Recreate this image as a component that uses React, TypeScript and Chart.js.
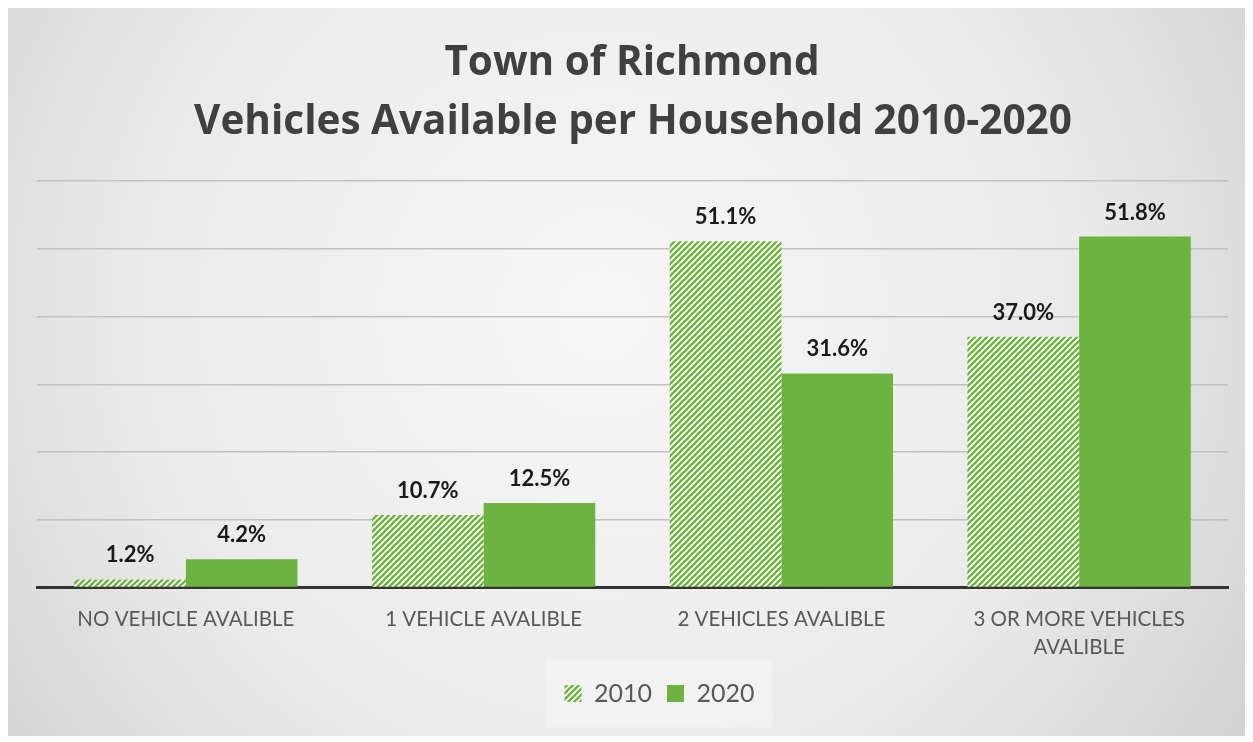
import { useEffect, useRef } from "react";
import { Chart, registerables } from "chart.js";

Chart.register(...registerables);

const categories = [
  "NO VEHICLE AVALIBLE",
  "1 VEHICLE AVALIBLE",
  "2 VEHICLES AVALIBLE",
  ["3 OR MORE VEHICLES", "AVALIBLE"],
];
const seriesNames = ["2010", "2020"];
const values2010 = [1.2, 10.7, 51.1, 37.0];
const values2020 = [4.2, 12.5, 31.6, 51.8];
const yTicks = [0, 10, 20, 30, 40, 50, 60];
const titleLines = ["Town of Richmond", "Vehicles Available per Household 2010-2020"];

const GREEN = "#6db33f";
const FONT = "Lato, 'Open Sans', sans-serif";
const TITLE_FONT = "'Open Sans', Lato, sans-serif";

function makeHatch(): CanvasPattern | string {
  const c = document.createElement("canvas");
  const s = 6;
  c.width = s;
  c.height = s;
  const ctx = c.getContext("2d");
  if (!ctx) return GREEN;
  ctx.fillStyle = "#ffffff";
  ctx.fillRect(0, 0, s, s);
  ctx.strokeStyle = GREEN;
  ctx.lineWidth = 2.4;
  ctx.beginPath();
  ctx.moveTo(-1, s + 1);
  ctx.lineTo(s + 1, -1);
  ctx.moveTo(-1, 1);
  ctx.lineTo(1, -1);
  ctx.moveTo(s - 1, s + 1);
  ctx.lineTo(s + 1, s - 1);
  ctx.stroke();
  return ctx.createPattern(c, "repeat") || GREEN;
}

const LEGEND_SHIFT_X = 27;
const LEGEND_SHIFT_Y = -13;

const backgroundPlugin = {
  id: "bgAndTitle",
  afterLayout(chart: any) {
    const lg = chart.legend;
    if (lg) {
      lg.left += LEGEND_SHIFT_X;
      lg.right += LEGEND_SHIFT_X;
      lg.top += LEGEND_SHIFT_Y;
      lg.bottom += LEGEND_SHIFT_Y;
    }
  },
  beforeDraw(chart: any) {
    const { ctx, width, height } = chart;
    ctx.save();
    const g = ctx.createRadialGradient(width * 0.48, height * 0.42, 40, width * 0.48, height * 0.42, width * 0.62);
    g.addColorStop(0, "#f6f6f6");
    g.addColorStop(0.6, "#eaeaea");
    g.addColorStop(1, "#d2d2d2");
    ctx.fillStyle = g;
    ctx.fillRect(0, 0, width, height);

    // legend backdrop
    const lg = chart.legend;
    if (lg && lg.legendHitBoxes && lg.legendHitBoxes.length) {
      const boxes = lg.legendHitBoxes;
      const l = Math.min(...boxes.map((b: any) => b.left));
      const r = Math.max(...boxes.map((b: any) => b.left + b.width));
      const t = Math.min(...boxes.map((b: any) => b.top));
      const b2 = Math.max(...boxes.map((b: any) => b.top + b.height));
      const cy = (t + b2) / 2;
      ctx.fillStyle = "rgba(255,255,255,0.3)";
      ctx.fillRect(l - 19, cy - 34, r - l + 37, 68);
    }

    // title
    ctx.fillStyle = "#404040";
    ctx.font = `bold 40.5px ${TITLE_FONT}`;
    ctx.textAlign = "center";
    ctx.textBaseline = "middle";
    ctx.fillText(titleLines[0], width / 2 + 4, 55);
    ctx.fillText(titleLines[1], width / 2 + 5, 114);
    ctx.restore();
  },
};

const labelPlugin = {
  id: "barLabels",
  afterDatasetsDraw(chart: any) {
    const { ctx } = chart;
    ctx.save();
    ctx.font = `bold 22px ${FONT}`;
    ctx.fillStyle = "#1a1a1a";
    ctx.textAlign = "center";
    ctx.textBaseline = "alphabetic";
    chart.data.datasets.forEach((ds: any, i: number) => {
      const meta = chart.getDatasetMeta(i);
      meta.data.forEach((bar: any, j: number) => {
        const v = ds.data[j];
        ctx.fillText(v.toFixed(1) + "%", bar.x, bar.y - 17);
      });
    });
    ctx.restore();
  },
};

export default function App() {
  const ref = useRef<HTMLCanvasElement | null>(null);
  useEffect(() => {
    if (!ref.current) return;
    const hatch = makeHatch();
    const chart = new Chart(ref.current, {
      type: "bar",
      data: {
        labels: categories,
        datasets: [
          { label: seriesNames[0], data: values2010, backgroundColor: hatch as any, borderWidth: 0 },
          { label: seriesNames[1], data: values2020, backgroundColor: GREEN, borderWidth: 0 },
        ],
      },
      options: {
        animation: false,
        responsive: false,
        devicePixelRatio: 1,
        layout: { padding: { top: 173, left: 29, right: 20, bottom: 7 } },
        datasets: { bar: { categoryPercentage: 0.75, barPercentage: 1 } },
        plugins: {
          title: { display: false },
          tooltip: { enabled: false },
          legend: {
            position: "bottom",
            labels: {
              boxWidth: 17,
              boxHeight: 17,
              padding: 15,
              color: "#595959",
              font: { family: FONT, size: 25 },
            },
          },
        },
        scales: {
          x: {
            grid: { display: false, drawTicks: false },
            border: { display: true, color: "#333333", width: 3 },
            ticks: {
              color: "#595959",
              font: { family: FONT, size: 20.5, lineHeight: 1.4 },
              padding: 17,
              maxRotation: 0,
            },
          },
          y: {
            min: yTicks[0],
            max: yTicks[yTicks.length - 1],
            afterBuildTicks: (axis: any) => {
              axis.ticks = yTicks.map((v) => ({ value: v }));
            },
            grid: { color: "#c2c2c2", lineWidth: 1.5, drawTicks: false },
            border: { display: false },
            ticks: { display: false },
          },
        },
      },
      plugins: [backgroundPlugin, labelPlugin],
    });
    return () => chart.destroy();
  }, []);
  return <canvas ref={ref} width={1240} height={728} style={{ display: "block" }} />;
}
